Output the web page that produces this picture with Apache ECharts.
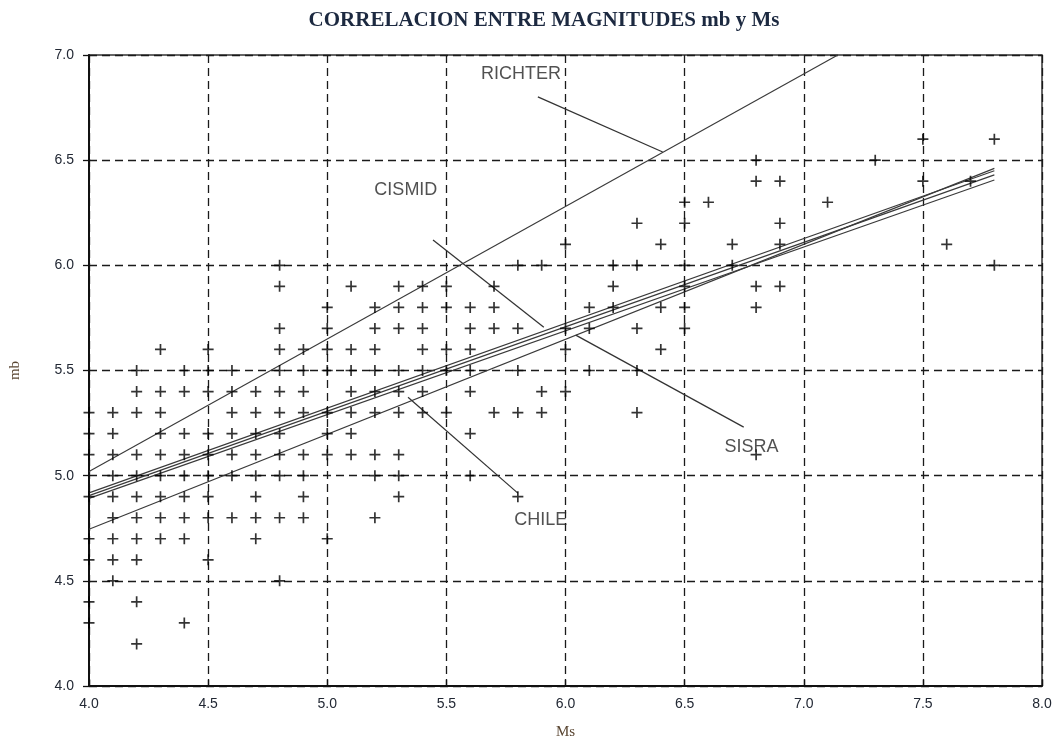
<!DOCTYPE html>
<html>
<head>
<meta charset="utf-8">
<script src="https://cdn.jsdelivr.net/npm/echarts@6/dist/echarts.min.js"></script>
<style>
html,body{margin:0;padding:0;background:#fff;}
#chart{width:1057px;height:746px;}
</style>
</head>
<body>
<div id="chart"></div>
<script>
// Scatter observations: each row = [mb, list of Ms values]
const mbRows = [
  [6.6, [7.5, 7.8]],
  [6.5, [6.8, 7.3]],
  [6.4, [6.8, 6.9, 7.5, 7.7]],
  [6.3, [6.5, 6.6, 7.1]],
  [6.2, [6.3, 6.5, 6.9]],
  [6.1, [6.0, 6.4, 6.7, 6.9, 7.6]],
  [6.0, [4.8, 5.8, 5.9, 6.2, 6.3, 6.5, 6.7, 7.8]],
  [5.9, [4.8, 5.1, 5.3, 5.4, 5.5, 5.7, 6.2, 6.5, 6.8, 6.9]],
  [5.8, [5.0, 5.2, 5.3, 5.4, 5.5, 5.6, 5.7, 6.1, 6.2, 6.4, 6.5, 6.8]],
  [5.7, [4.8, 5.0, 5.2, 5.3, 5.4, 5.6, 5.7, 5.8, 6.0, 6.1, 6.3, 6.5]],
  [5.6, [4.3, 4.5, 4.8, 4.9, 5.0, 5.1, 5.2, 5.4, 5.5, 5.6, 6.0, 6.4]],
  [5.5, [4.2, 4.4, 4.5, 4.6, 4.8, 4.9, 5.0, 5.1, 5.2, 5.3, 5.4, 5.5, 5.6, 5.8, 6.1, 6.3]],
  [5.4, [4.2, 4.3, 4.4, 4.5, 4.6, 4.7, 4.8, 4.9, 5.1, 5.2, 5.3, 5.4, 5.6, 5.9, 6.0]],
  [5.3, [4.0, 4.1, 4.2, 4.3, 4.6, 4.7, 4.8, 4.9, 5.0, 5.1, 5.2, 5.3, 5.4, 5.5, 5.7, 5.8, 5.9, 6.3]],
  [5.2, [4.0, 4.1, 4.3, 4.4, 4.5, 4.6, 4.7, 4.8, 5.0, 5.1, 5.6]],
  [5.1, [4.0, 4.1, 4.2, 4.3, 4.4, 4.5, 4.6, 4.7, 4.8, 4.9, 5.0, 5.1, 5.2, 5.3, 6.8]],
  [5.0, [4.1, 4.2, 4.3, 4.4, 4.5, 4.6, 4.7, 4.8, 4.9, 5.2, 5.3, 5.6]],
  [4.9, [4.0, 4.1, 4.2, 4.3, 4.4, 4.5, 4.7, 4.9, 5.3, 5.8]],
  [4.8, [4.1, 4.2, 4.3, 4.4, 4.5, 4.6, 4.7, 4.8, 4.9, 5.2]],
  [4.7, [4.0, 4.1, 4.2, 4.3, 4.4, 4.7, 5.0]],
  [4.6, [4.0, 4.1, 4.2, 4.5]],
  [4.5, [4.1, 4.8]],
  [4.4, [4.0, 4.2]],
  [4.3, [4.0, 4.4]],
  [4.2, [4.2]]
];

// Correlation lines [Ms, mb] end points
const richterLine = [[4.0, 5.02], [7.143, 7.0]];
const bundleLineA = [[4.0, 4.918], [7.8, 6.450]];
const bundleLineB = [[4.0, 4.905], [7.8, 6.430]];
const bundleLineC = [[4.0, 4.892], [7.8, 6.406]];
const chileLine   = [[4.0, 4.745], [7.8, 6.461]];

// Label texts with anchor [Ms, mb]
const labelNames = ['RICHTER', 'CISMID', 'SISRA', 'CHILE'];
const labelAnchors = [[5.813, 6.910], [5.330, 6.358], [6.781, 5.136], [5.896, 4.788]];
// Leader lines for each label
const leaderLines = [
  [[5.884, 6.801], [6.408, 6.539]],
  [[5.444, 6.120], [5.909, 5.706]],
  [[6.043, 5.668], [6.748, 5.231]],
  [[5.339, 5.373], [5.800, 4.917]]
];

const xTicks = [4.0, 4.5, 5.0, 5.5, 6.0, 6.5, 7.0, 7.5, 8.0];
const yTicks = [4.0, 4.5, 5.0, 5.5, 6.0, 6.5, 7.0];

const points = [];
mbRows.forEach(r => r[1].forEach(ms => points.push([ms, r[0]])));

const chart = echarts.init(document.getElementById('chart'), null, {renderer: 'canvas'});

const lineStyleMain = {color: '#3a3a3a', width: 1.15};
const mkLine = (d) => ({
  type: 'line', data: d, symbol: 'none', silent: true,
  lineStyle: lineStyleMain, z: 3, animation: false
});

const series = [
  {
    type: 'scatter', data: points, silent: true, animation: false,
    symbol: 'path://M0,6 L12,6 M6,0 L6,12',
    symbolSize: 11,
    itemStyle: {color: 'rgba(0,0,0,0)', borderColor: '#000', borderWidth: 1.7},
    z: 4
  },
  mkLine(richterLine),
  mkLine(bundleLineA),
  mkLine(bundleLineB),
  mkLine(bundleLineC),
  mkLine(chileLine)
];
leaderLines.forEach(l => series.push(Object.assign(mkLine(l), {lineStyle: {color: '#333', width: 1.25}})));
series.push({
  type: 'scatter', silent: true, animation: false,
  data: labelAnchors.map((p, i) => [p[0], p[1], labelNames[i]]),
  symbolSize: 1,
  itemStyle: {color: 'rgba(0,0,0,0)'},
  label: {
    show: true, position: 'inside', formatter: p => p.data[2],
    fontFamily: 'Liberation Sans, Arial, sans-serif', fontSize: 18, color: '#262626'
  },
  z: 6
});

chart.setOption({
  animation: false,
  backgroundColor: '#fff',
  title: {
    text: 'CORRELACION ENTRE MAGNITUDES mb y Ms',
    left: 539, top: 5, textAlign: 'center',
    textStyle: {fontFamily: 'Liberation Serif, Times New Roman, serif', fontWeight: 'bold', fontSize: 21, color: '#1c2940'}
  },
  grid: {
    left: 88, right: 15, top: 55, bottom: 60,
    show: true, borderColor: '#333', borderWidth: 1.5, backgroundColor: 'transparent'
  },
  xAxis: {
    type: 'value', min: 4, max: 8, interval: 0.5,
    name: 'Ms', nameLocation: 'middle', nameGap: 39,
    nameTextStyle: {fontFamily: 'Liberation Serif, serif', fontSize: 15, color: '#5a4632'},
    axisLine: {show: true, onZero: false, lineStyle: {color: '#111', width: 2}},
    axisTick: {show: true, inside: true, length: 6, lineStyle: {color: '#111', width: 1.3}},
    axisLabel: {margin: 11, fontFamily: 'Liberation Sans, Arial, sans-serif', fontSize: 14, color: '#222834',
      formatter: v => (xTicks.indexOf(v) >= 0 ? v.toFixed(1) : '')},
    splitLine: {show: true, lineStyle: {color: '#1a1a1a', width: 1.3, type: [8, 5]}}
  },
  yAxis: {
    type: 'value', min: 4, max: 7, interval: 0.5,
    name: 'mb', nameLocation: 'middle', nameGap: 66, nameRotate: 90,
    nameTextStyle: {fontFamily: 'Liberation Serif, serif', fontSize: 15, color: '#5a4632'},
    axisLine: {show: true, onZero: false, lineStyle: {color: '#111', width: 2}},
    axisTick: {show: true, inside: false, length: 6, lineStyle: {color: '#111', width: 1.3}},
    axisLabel: {margin: 15, fontFamily: 'Liberation Sans, Arial, sans-serif', fontSize: 14, color: '#222834',
      formatter: v => (yTicks.indexOf(v) >= 0 ? v.toFixed(1) : '')},
    splitLine: {show: true, lineStyle: {color: '#1a1a1a', width: 1.3, type: [8, 5]}}
  },
  series: series
});
</script>
</body>
</html>
